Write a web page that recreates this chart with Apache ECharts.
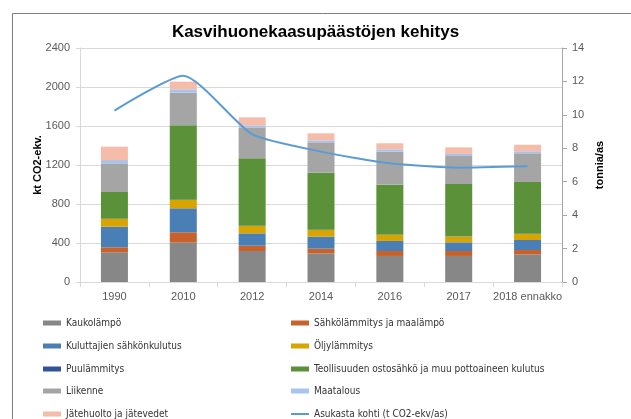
<!DOCTYPE html>
<html>
<head>
<meta charset="utf-8">
<script src="https://cdn.jsdelivr.net/npm/echarts@6/dist/echarts.min.js"></script>
<style>
  html, body { margin: 0; padding: 0; background: #fff; }
  #main { width: 631px; height: 419px; }
</style>
</head>
<body>
<div id="main"></div>
<script>
// vuodet
var years = ['1990', '2010', '2012', '2014', '2016', '2017', '2018 ennakko'];
// kt CO2-ekv., pinottuna alhaalta ylös
var kaukolampo = [305, 407, 318, 294, 267, 267, 284];
var sahkolammitys = [51, 103, 54, 48, 51, 51, 44];
var kuluttajat = [211, 246, 127, 123, 103, 89, 103];
var oljylammitys = [79, 85, 75, 68, 64, 58, 61];
var puulammitys = [3, 3, 3, 3, 3, 3, 3];
var teollisuus = [274, 763, 691, 585, 510, 537, 531];
var liikenne = [294, 335, 318, 312, 339, 287, 294];
var maatalous = [34, 34, 21, 20, 24, 21, 21];
var jatehuolto = [137, 79, 82, 72, 62, 68, 67];
// t CO2-ekv/as
var asukasta = [10.25, 12.34, 8.84, 7.8, 7.1, 6.84, 6.92];

var leftTicks = [0, 400, 800, 1200, 1600, 2000, 2400];
var rightTicks = [0, 2, 4, 6, 8, 10, 12, 14];

// selitteen sarakkeet (Excelin järjestys)
var legendLeftCol = ['Kaukolämpö', 'Kuluttajien sähkönkulutus', 'Puulämmitys', 'Liikenne', 'Jätehuolto ja jätevedet'];
var legendRightCol = ['Sähkölämmitys ja maalämpö', 'Öljylämmitys', 'Teollisuuden ostosähkö ja muu pottoaineen kulutus', 'Maatalous', 'Asukasta kohti (t CO2-ekv/as)'];

var font = '"Liberation Sans Narrow", "DejaVu Sans Condensed", "Liberation Sans", sans-serif';
var labelFont = '"Liberation Sans", sans-serif';

function bar(name, data, color) {
  return {
    name: name,
    type: 'bar',
    stack: 'kok',
    barWidth: 27,
    data: data,
    itemStyle: {color: color},
    emphasis: {disabled: true}
  };
}

function legendItem(name, left, top, h) {
  return {
    left: left,
    top: top,
    icon: 'rect',
    itemWidth: 18,
    itemHeight: h,
    selectedMode: false,
    data: [name],
    textStyle: {fontFamily: font, fontSize: 10, color: '#333', lineHeight: 14}
  };
}

var legends = [];
var rowTops = [311, 334, 357, 379, 402];
for (var i = 0; i < rowTops.length; i++) {
  legends.push(legendItem(legendLeftCol[i], 38, rowTops[i], 5));
  // viimeinen oikealla on viiva
  legends.push(legendItem(legendRightCol[i], 286, rowTops[i], i === rowTops.length - 1 ? 2 : 5));
}

var option = {
  animation: false,
  textStyle: {fontFamily: font},
  graphic: [{
    type: 'rect',
    left: 10,
    top: 11,
    shape: {width: 660, height: 450},
    style: {fill: 'none', stroke: '#7f7f7f', lineWidth: 1},
    silent: true
  }],
  title: {
    text: 'Kasvihuonekaasupäästöjen kehitys',
    left: 'center',
    top: 19,
    textStyle: {fontFamily: labelFont, fontSize: 17, fontWeight: 'bold', color: '#000'}
  },
  legend: legends,
  grid: {
    left: 80,
    right: 69,
    top: 48,
    bottom: 137
  },
  xAxis: {
    type: 'category',
    data: years,
    axisLine: {lineStyle: {color: '#d9d9d9'}},
    axisTick: {show: true, length: 5, lineStyle: {color: '#d9d9d9'}},
    axisLabel: {interval: 0, color: '#595959', fontSize: 11, margin: 9, fontFamily: labelFont}
  },
  yAxis: [
    {
      type: 'value',
      min: leftTicks[0],
      max: leftTicks[leftTicks.length - 1],
      interval: 400,
      name: 'kt CO2-ekv.',
      nameLocation: 'middle',
      nameGap: 37,
      nameMoveOverlap: false,
      nameTextStyle: {fontFamily: labelFont, fontSize: 11, fontWeight: 'bold', color: '#000'},
      axisLine: {show: true, lineStyle: {color: '#d9d9d9'}},
      axisTick: {show: true, length: 4, lineStyle: {color: '#d9d9d9'}},
      axisLabel: {color: '#595959', fontSize: 11, margin: 10, fontFamily: labelFont,
        formatter: function (v) { return String(v); }},
      splitLine: {lineStyle: {color: '#d9d9d9'}}
    },
    {
      type: 'value',
      min: rightTicks[0],
      max: rightTicks[rightTicks.length - 1],
      interval: 2,
      name: 'tonnia/as',
      nameLocation: 'middle',
      nameGap: 32,
      nameMoveOverlap: false,
      nameTextStyle: {fontFamily: labelFont, fontSize: 11, fontWeight: 'bold', color: '#000'},
      axisLine: {show: true, lineStyle: {color: '#a6a6a6'}},
      axisTick: {show: true, length: 5, lineStyle: {color: '#a6a6a6'}},
      axisLabel: {color: '#595959', fontSize: 11, margin: 10, fontFamily: labelFont},
      splitLine: {show: false}
    }
  ],
  series: [
    bar('Kaukolämpö', kaukolampo, '#878787'),
    bar('Sähkölämmitys ja maalämpö', sahkolammitys, '#c8622a'),
    bar('Kuluttajien sähkönkulutus', kuluttajat, '#4a7fb5'),
    bar('Öljylämmitys', oljylammitys, '#d9a400'),
    bar('Puulämmitys', puulammitys, '#2f5597'),
    bar('Teollisuuden ostosähkö ja muu pottoaineen kulutus', teollisuus, '#5a9139'),
    bar('Liikenne', liikenne, '#a5a5a5'),
    bar('Maatalous', maatalous, '#a9c4eb'),
    bar('Jätehuolto ja jätevedet', jatehuolto, '#f5bcaa'),
    {
      name: 'Asukasta kohti (t CO2-ekv/as)',
      type: 'line',
      yAxisIndex: 1,
      data: asukasta,
      smooth: 0.2,
      symbol: 'none',
      itemStyle: {color: '#5b9bd5'},
      lineStyle: {color: '#5b9bd5', width: 2},
      emphasis: {disabled: true}
    }
  ]
};

var myChart = echarts.init(document.getElementById('main'));
myChart.setOption(option);
</script>
</body>
</html>
